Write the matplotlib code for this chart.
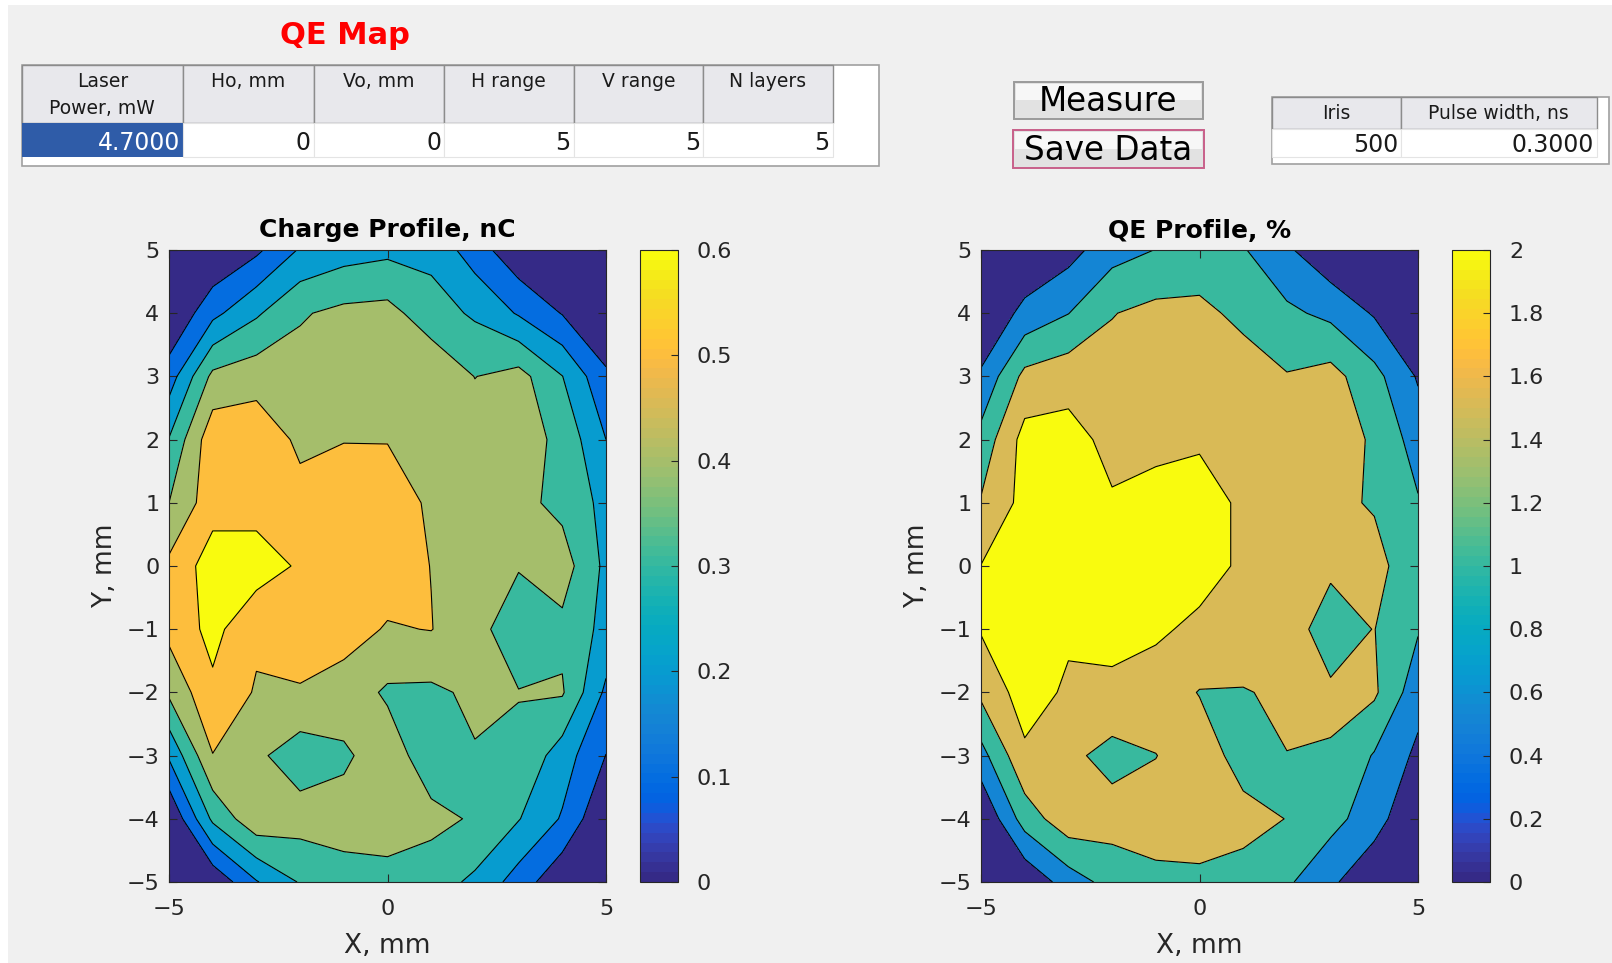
import numpy as np
import matplotlib.pyplot as plt
from matplotlib.colors import ListedColormap, Normalize
from matplotlib.cm import ScalarMappable
from matplotlib.patches import Rectangle, FancyBboxPatch

# ---- scan grid (mm) ----
X_MM = [-5, -4, -3, -2, -1, 0, 1, 2, 3, 4, 5]
Y_MM = [5, 4, 3, 2, 1, 0, -1, -2, -3, -4, -5]   # rows below run top -> bottom

# charge per point, nC
CHARGE_NC = [
    [0.00, 0.00, 0.08, 0.21, 0.256, 0.277, 0.27, 0.15, 0.025, 0.00, 0.00],
    [0.00, 0.172, 0.286, 0.39, 0.425, 0.433, 0.345, 0.285, 0.19, 0.095, 0.00],
    [0.15, 0.425, 0.458, 0.44, 0.46, 0.47, 0.479, 0.398, 0.437, 0.302, 0.118],
    [0.305, 0.567, 0.568, 0.48, 0.497, 0.497, 0.47, 0.45, 0.45, 0.373, 0.20],
    [0.40, 0.56, 0.56, 0.533, 0.55, 0.54, 0.488, 0.46, 0.428, 0.373, 0.27],
    [0.522, 0.65, 0.65, 0.587, 0.57, 0.55, 0.498, 0.45, 0.406, 0.447, 0.276],
    [0.529, 0.63, 0.52, 0.56, 0.54, 0.492, 0.503, 0.43, 0.347, 0.376, 0.27],
    [0.418, 0.58, 0.49, 0.49, 0.457, 0.385, 0.38, 0.42, 0.403, 0.41, 0.18],
    [0.214, 0.497, 0.42, 0.345, 0.383, 0.455, 0.34, 0.393, 0.384, 0.25, 0.098],
    [0.00, 0.32, 0.473, 0.443, 0.44, 0.46, 0.428, 0.389, 0.305, 0.19, 0.00],
    [0.00, 0.02, 0.193, 0.308, 0.363, 0.36, 0.345, 0.28, 0.155, 0.02, 0.00],
]

# quantum efficiency per point, %
QE_PCT = [
    [0.00, 0.00, 0.31, 0.81, 1.01, 1.07, 1.04, 0.58, 0.10, 0.00, 0.00],
    [0.00, 0.66, 0.99, 1.48, 1.64, 1.67, 1.33, 1.10, 0.88, 0.45, 0.00],
    [0.58, 1.64, 1.80, 1.69, 1.77, 1.81, 1.84, 1.53, 1.68, 1.16, 0.45],
    [1.17, 2.18, 2.19, 1.85, 1.91, 1.91, 1.81, 1.73, 1.73, 1.44, 0.77],
    [1.54, 2.16, 2.16, 2.05, 2.12, 2.30, 1.88, 1.77, 1.65, 1.44, 1.04],
    [2.01, 2.50, 2.50, 2.26, 2.19, 2.20, 1.92, 1.73, 1.56, 1.72, 1.06],
    [2.04, 2.43, 2.08, 2.16, 2.08, 1.89, 1.94, 1.66, 1.34, 1.51, 1.04],
    [1.61, 2.23, 1.92, 1.89, 1.76, 1.48, 1.46, 1.62, 1.55, 1.58, 0.69],
    [0.82, 1.91, 1.62, 1.33, 1.49, 1.75, 1.31, 1.49, 1.48, 0.96, 0.39],
    [0.00, 1.23, 1.82, 1.71, 1.69, 1.77, 1.65, 1.49, 1.17, 0.73, 0.00],
    [0.00, 0.08, 0.74, 1.19, 1.40, 1.39, 1.33, 1.08, 0.60, 0.08, 0.00],
]

CHARGE_LEVELS = [0.1, 0.2, 0.3, 0.4, 0.5, 0.6]
QE_LEVELS = [0.5, 1.0, 1.5, 2.0]
CHARGE_TICKS = [0, 0.1, 0.2, 0.3, 0.4, 0.5, 0.6]
QE_TICKS = [0, 0.2, 0.4, 0.6, 0.8, 1.0, 1.2, 1.4, 1.6, 1.8, 2.0]

# table contents
SCAN_HEADERS = ["Laser\nPower, mW", "Ho, mm", "Vo, mm", "H range", "V range", "N layers"]
SCAN_VALUES = ["4.7000", "0", "0", "5", "5", "5"]
LASER_HEADERS = ["Iris", "Pulse width, ns"]
LASER_VALUES = ["500", "0.3000"]

# parula, 64 entries
PARULA = ListedColormap([
    (0.2081, 0.1663, 0.5292), (0.2116, 0.1898, 0.5777), (0.2123, 0.2138, 0.6270), (0.2081, 0.2386, 0.6771),
    (0.1959, 0.2645, 0.7279), (0.1707, 0.2919, 0.7792), (0.1253, 0.3242, 0.8303), (0.0591, 0.3598, 0.8683),
    (0.0117, 0.3875, 0.8820), (0.0060, 0.4086, 0.8828), (0.0165, 0.4266, 0.8786), (0.0329, 0.4430, 0.8720),
    (0.0498, 0.4586, 0.8641), (0.0629, 0.4737, 0.8554), (0.0723, 0.4887, 0.8467), (0.0779, 0.5040, 0.8384),
    (0.0793, 0.5200, 0.8312), (0.0749, 0.5375, 0.8263), (0.0641, 0.5570, 0.8240), (0.0488, 0.5772, 0.8228),
    (0.0343, 0.5966, 0.8199), (0.0265, 0.6137, 0.8135), (0.0239, 0.6287, 0.8038), (0.0231, 0.6418, 0.7913),
    (0.0228, 0.6535, 0.7768), (0.0267, 0.6642, 0.7607), (0.0384, 0.6743, 0.7436), (0.0590, 0.6838, 0.7254),
    (0.0843, 0.6928, 0.7062), (0.1133, 0.7015, 0.6859), (0.1453, 0.7098, 0.6646), (0.1801, 0.7177, 0.6424),
    (0.2178, 0.7250, 0.6193), (0.2586, 0.7317, 0.5954), (0.3022, 0.7376, 0.5712), (0.3482, 0.7424, 0.5473),
    (0.3953, 0.7459, 0.5244), (0.4420, 0.7481, 0.5033), (0.4871, 0.7491, 0.4840), (0.5300, 0.7491, 0.4661),
    (0.5709, 0.7485, 0.4494), (0.6099, 0.7473, 0.4337), (0.6473, 0.7456, 0.4188), (0.6834, 0.7435, 0.4044),
    (0.7184, 0.7411, 0.3905), (0.7525, 0.7384, 0.3768), (0.7858, 0.7356, 0.3633), (0.8185, 0.7327, 0.3498),
    (0.8507, 0.7299, 0.3360), (0.8824, 0.7274, 0.3217), (0.9139, 0.7258, 0.3063), (0.9450, 0.7261, 0.2886),
    (0.9739, 0.7314, 0.2666), (0.9938, 0.7455, 0.2403), (0.9990, 0.7653, 0.2164), (0.9955, 0.7861, 0.1967),
    (0.9880, 0.8066, 0.1794), (0.9789, 0.8271, 0.1633), (0.9697, 0.8481, 0.1475), (0.9626, 0.8705, 0.1309),
    (0.9589, 0.8949, 0.1132), (0.9598, 0.9218, 0.0948), (0.9661, 0.9514, 0.0755), (0.9763, 0.9831, 0.0538),
])

W, H = 1612, 963
BG = "#f0f0f0"
TXT = "#262626"


def fx(px):
    return px / W


def fy(py):
    return 1 - py / H


def box(fig, x0, y0, x1, y1, face, edge="none", lw=1.0):
    fig.add_artist(Rectangle((fx(x0), fy(y1)), fx(x1) - fx(x0), fy(y0) - fy(y1),
                             transform=fig.transFigure, facecolor=face,
                             edgecolor=edge, linewidth=lw))


def draw_table(fig, cols, y_head, y_data, y_end, x_end, headers, values, head_y, highlight=None):
    # outer frame (white), header row, data row
    box(fig, cols[0], y_head, x_end, y_end, "white", "#a0a0a0", 1.2)
    for i, (h, v) in enumerate(zip(headers, values)):
        x0, x1 = cols[i], cols[i + 1]
        box(fig, x0, y_head, x1, y_data, "#e8e8ec", "#8c8c8c", 1.0)
        if highlight == i:
            box(fig, x0, y_data, x1, y_data + (y_end - y_data) * 0.78, "#2f5ca8")
            col = "white"
        else:
            box(fig, x0, y_data, x1, y_data + (y_end - y_data) * 0.78, "white", "#e4e4e4", 0.8)
            col = "#1a1a1a"
        fig.text(fx((x0 + x1) / 2), fy(head_y), h, ha="center", va="top",
                 fontsize=13.5, color="#1a1a1a", linespacing=1.5)
        fig.text(fx(x1 - 3), fy(y_data + (y_end - y_data) * 0.45), v, ha="right",
                 va="center", fontsize=17, color=col)


def draw_button(fig, x0, y0, x1, y1, label, edge):
    fig.add_artist(FancyBboxPatch((fx(x0), fy(y1)), fx(x1) - fx(x0), fy(y0) - fy(y1),
                                  boxstyle="square,pad=0", transform=fig.transFigure,
                                  facecolor="#e2e2e2", edgecolor=edge, linewidth=1.4))
    box(fig, x0 + 2, y0 + 2, x1 - 2, (y0 + y1) / 2, "#f7f7f7")
    fig.text(fx((x0 + x1) / 2), fy((y0 + y1) / 2 + 1), label, ha="center", va="center",
             fontsize=23.5, color="black")


def draw_map(fig, ax, cax, z, levels, vmax, ticks, title):
    xx, yy = np.meshgrid(X_MM, Y_MM)
    z = np.array(z)
    norm = Normalize(0, vmax)
    # each band takes the colour of its lower level
    fills = [PARULA(norm(0))] + [PARULA(norm(v)) for v in levels]
    ax.contourf(xx, yy, z, levels=[-10] + levels + [100], colors=fills)
    ax.contour(xx, yy, z, levels=levels, colors="black", linewidths=0.8)

    ax.set_xlim(-5, 5)
    ax.set_ylim(-5, 5)
    ax.set_xticks([-5, 0, 5])
    ax.set_yticks(Y_MM[::-1])
    ax.tick_params(direction="in", top=True, right=True, length=6, width=0.8,
                   labelsize=16, colors=TXT)
    ax.tick_params(axis="x", pad=12)
    ax.tick_params(axis="y", pad=7)
    for s in ax.spines.values():
        s.set_color(TXT)
        s.set_linewidth(0.8)
    ax.set_title(title, fontsize=18, fontweight="bold", pad=9)
    ax.set_xlabel("X, mm", fontsize=19, color=TXT, labelpad=10)
    ax.set_ylabel("Y, mm", fontsize=19, color=TXT, labelpad=6)

    cb = fig.colorbar(ScalarMappable(norm=norm, cmap=PARULA), cax=cax, ticks=ticks)
    cb.ax.set_yticklabels([f"{t:g}" for t in ticks])
    cb.ax.tick_params(direction="in", length=5, width=0.8, labelsize=16, colors=TXT, pad=14)
    cb.outline.set_edgecolor(TXT)
    cb.outline.set_linewidth(0.8)


fig = plt.figure(figsize=(W / 100, H / 100), dpi=100, facecolor=BG)

# thin white window margins
box(fig, 0, 0, W, 5, "white")
box(fig, 0, 0, 8, H, "white")

fig.text(fx(345), fy(35), "QE Map", ha="center", va="center", fontsize=22,
         fontweight="bold", color="#ff0000")

draw_table(fig, [21.6, 183, 313.5, 444, 573.6, 703, 832.7], 65, 123, 166.5, 879,
           SCAN_HEADERS, SCAN_VALUES, head_y=72, highlight=0)
draw_table(fig, [1271.6, 1401.2, 1596.5], 96.6, 129.5, 164.5, 1608.8,
           LASER_HEADERS, LASER_VALUES, head_y=104)

draw_button(fig, 1014, 82, 1203, 119, "Measure", "#9a9a9a")
draw_button(fig, 1013, 130, 1204, 168, "Save Data", "#c8608a")

ax1 = fig.add_axes([fx(169), fy(882), fx(606) - fx(169), fy(250) - fy(882)])
cax1 = fig.add_axes([fx(639.5), fy(882), fx(677.5) - fx(639.5), fy(250) - fy(882)])
ax2 = fig.add_axes([fx(981), fy(882), fx(1418) - fx(981), fy(250) - fy(882)])
cax2 = fig.add_axes([fx(1451.5), fy(882), fx(1489.5) - fx(1451.5), fy(250) - fy(882)])

draw_map(fig, ax1, cax1, CHARGE_NC, CHARGE_LEVELS, 0.6, CHARGE_TICKS, "Charge Profile, nC")
draw_map(fig, ax2, cax2, QE_PCT, QE_LEVELS, 2.0, QE_TICKS, "QE Profile, %")

fig.savefig("out.png", dpi=100, facecolor=BG)
